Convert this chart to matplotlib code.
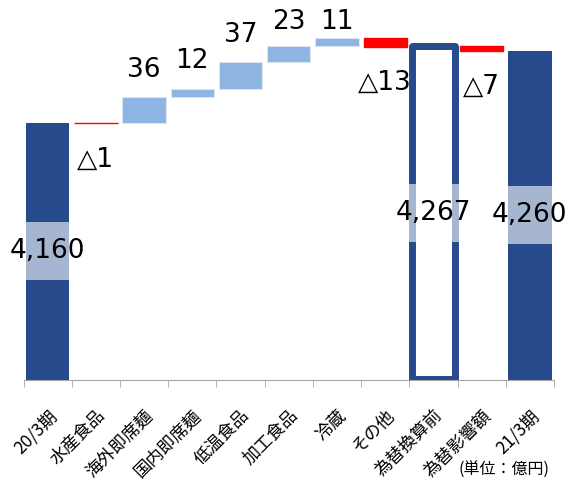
import matplotlib.pyplot as plt

# 売上高の増減要因（億円）
labels = ['20/3期', '水産食品', '海外即席麺', '国内即席麺', '低温食品', '加工食品',
          '冷蔵', 'その他', '為替換算前', '為替影響額', '21/3期']
start_total = 4160
segment_changes = [-1, 36, 12, 37, 23, 11, -13]
before_fx_total = 4267
fx_change = -7
end_total = 4260

navy = '#264A8C'
light_blue = '#8EB4E3'
red = '#FF0000'
ymin, ymax = 3802.6, 4330.4
label_ceiling = 4300  # ラベルがプロット上端からはみ出さないように
num_font = ['DejaVu Sans', 'Noto Sans CJK JP']

fig = plt.figure(figsize=(5.68, 4.83), dpi=100)
ax = fig.add_axes([0.0414, 0.2133, 0.934, 0.7867])
ax.set_xlim(-0.5, len(labels) - 0.5)
ax.set_ylim(ymin, ymax)

width = 0.9
label_box = dict(boxstyle='square,pad=0.6', fc=(1, 1, 1, 0.6), ec='none')


def total_bar(x, value, hollow=False):
    if hollow:
        # 枠だけの棒（下端の線が軸線に重ならないよう少し上げる）
        base = ymin + 2
        ax.bar(x, value - base, bottom=base, width=width, color='white',
               edgecolor=navy, linewidth=5, joinstyle='round', zorder=2)
    else:
        ax.bar(x, value - ymin, bottom=ymin, width=width, color=navy, zorder=2)
    ax.text(x, (ymin + value) / 2, f'{value:,}', ha='center', va='center',
            fontsize=19, family=num_font, bbox=label_box, zorder=4)


def change_bar(x, base, delta):
    if delta > 0:
        ax.bar(x, delta, bottom=base, width=width, color=light_blue,
               edgecolor='#DCE6F2', linewidth=0.8, zorder=2)
        y = min(base + delta + 38, label_ceiling)
        ax.text(x, y, f'{delta}', ha='center', va='center',
                fontsize=19, family=num_font, zorder=4)
    else:
        ax.bar(x, delta, bottom=base, width=width, color=red,
               edgecolor=red, linewidth=1.0, zorder=2)
        ax.annotate(f'△{-delta}', (x, base + delta), xytext=(0, -26),
                    textcoords='offset points', ha='center', va='center',
                    fontsize=19, family=num_font, zorder=4)


total_bar(0, start_total)
level = start_total
for i, d in enumerate(segment_changes, start=1):
    change_bar(i, level, d)
    level += d
total_bar(8, before_fx_total, hollow=True)
change_bar(9, before_fx_total, fx_change)
total_bar(10, end_total)

# 軸の体裁
for side in ('left', 'top', 'right'):
    ax.spines[side].set_visible(False)
ax.spines['bottom'].set_color('#A6A6A6')
ax.spines['bottom'].set_zorder(3)
ax.set_yticks([])
ax.set_xticks(range(len(labels)))
ax.set_xticklabels(labels, rotation=45, ha='right', rotation_mode='anchor',
                   fontsize=12.5, family=['Noto Sans CJK JP'])
ax.set_xticks([i - 0.5 for i in range(len(labels) + 1)], minor=True)
ax.tick_params(axis='x', which='major', length=0, pad=19)
ax.tick_params(axis='x', which='minor', length=5, color='#A6A6A6', direction='out')

fig.text(0.968, 0.027, '(単位：億円)', ha='right', va='center',
         fontsize=11.5, family=['Noto Sans CJK JP'])

fig.savefig('out.png', dpi=100)
